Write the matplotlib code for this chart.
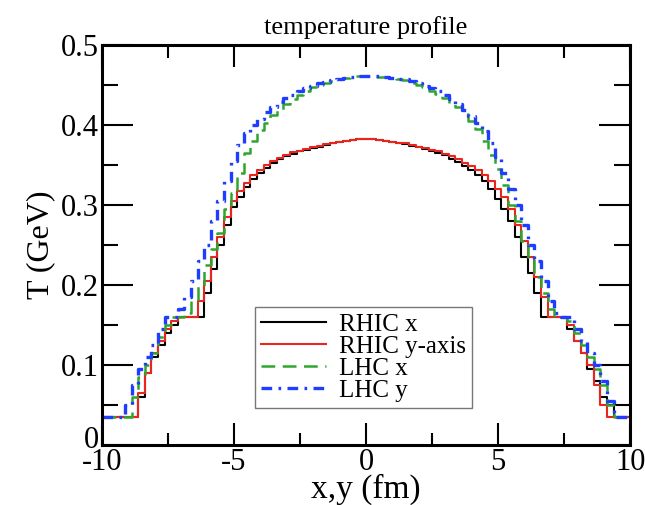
import numpy as np
import matplotlib
matplotlib.use("Agg")
import matplotlib.pyplot as plt
from matplotlib.ticker import MultipleLocator
from matplotlib.transforms import ScaledTranslation

# x grid of the profiles (fm), 0.25 fm cells
x_fm = np.arange(-10.0, 10.001, 0.25)

# temperature (GeV), one value per cell
rhic_x = [
    0.035, 0.035, 0.035, 0.035, 0.035, 0.035, 0.060, 0.090, 0.110,
    0.125, 0.140, 0.150, 0.160, 0.160, 0.160, 0.160, 0.190, 0.220,
    0.250, 0.275, 0.298, 0.310, 0.322, 0.332, 0.340, 0.346, 0.352,
    0.357, 0.361, 0.364, 0.367, 0.369, 0.371, 0.373, 0.375, 0.377,
    0.379, 0.380, 0.381, 0.382, 0.382, 0.382, 0.381, 0.380, 0.379,
    0.378, 0.376, 0.374, 0.372, 0.370, 0.367, 0.365, 0.362, 0.358,
    0.354, 0.349, 0.344, 0.337, 0.330, 0.320, 0.308, 0.295, 0.280,
    0.260, 0.235, 0.215, 0.190, 0.160, 0.160, 0.160, 0.160, 0.145,
    0.130, 0.115, 0.095, 0.080, 0.060, 0.050, 0.035, 0.035, 0.035,
]
rhic_y = [
    0.035, 0.035, 0.035, 0.035, 0.035, 0.035, 0.065, 0.090, 0.115,
    0.130, 0.145, 0.155, 0.160, 0.160, 0.160, 0.180, 0.205, 0.235,
    0.260, 0.285, 0.305, 0.318, 0.328, 0.337, 0.344, 0.350, 0.355,
    0.359, 0.363, 0.366, 0.368, 0.370, 0.372, 0.374, 0.376, 0.377,
    0.379, 0.380, 0.381, 0.382, 0.382, 0.382, 0.381, 0.380, 0.379,
    0.378, 0.377, 0.375, 0.373, 0.371, 0.369, 0.367, 0.364, 0.361,
    0.357, 0.353, 0.349, 0.344, 0.337, 0.330, 0.320, 0.310, 0.295,
    0.275, 0.255, 0.235, 0.210, 0.185, 0.160, 0.160, 0.160, 0.150,
    0.130, 0.115, 0.100, 0.075, 0.050, 0.035, 0.035, 0.035, 0.035,
]
lhc_x = [
    0.035, 0.035, 0.035, 0.035, 0.035, 0.060, 0.085, 0.100, 0.115,
    0.135, 0.150, 0.160, 0.160, 0.165, 0.180, 0.200, 0.225, 0.245,
    0.265, 0.295, 0.315, 0.340, 0.365, 0.380, 0.394, 0.403, 0.412,
    0.419, 0.426, 0.432, 0.438, 0.443, 0.447, 0.450, 0.453, 0.455,
    0.457, 0.459, 0.460, 0.461, 0.461, 0.461, 0.460, 0.460, 0.459,
    0.458, 0.456, 0.453, 0.450, 0.447, 0.443, 0.439, 0.434, 0.428,
    0.422, 0.414, 0.405, 0.395, 0.380, 0.362, 0.345, 0.325, 0.300,
    0.280, 0.255, 0.235, 0.210, 0.190, 0.170, 0.160, 0.160, 0.155,
    0.140, 0.125, 0.110, 0.095, 0.075, 0.050, 0.035, 0.035, 0.035,
]
lhc_y = [
    0.035, 0.035, 0.035, 0.035, 0.050, 0.075, 0.095, 0.110, 0.125,
    0.145, 0.160, 0.160, 0.170, 0.185, 0.205, 0.230, 0.250, 0.280,
    0.305, 0.330, 0.355, 0.375, 0.390, 0.400, 0.408, 0.416, 0.423,
    0.429, 0.434, 0.438, 0.442, 0.446, 0.449, 0.452, 0.454, 0.456,
    0.458, 0.459, 0.460, 0.461, 0.461, 0.461, 0.461, 0.460, 0.459,
    0.458, 0.457, 0.455, 0.452, 0.449, 0.446, 0.442, 0.437, 0.432,
    0.426, 0.419, 0.411, 0.402, 0.392, 0.378, 0.360, 0.340, 0.320,
    0.300, 0.275, 0.250, 0.230, 0.205, 0.180, 0.165, 0.160, 0.160,
    0.145, 0.130, 0.115, 0.100, 0.080, 0.055, 0.035, 0.035, 0.035,
]

plt.rcParams["font.family"] = ["Liberation Serif", "DejaVu Serif"]

fig = plt.figure(figsize=(6.45, 5.05), dpi=100)
ax = fig.add_axes([0.158, 0.119, 0.819, 0.792])

ax.plot(x_fm, rhic_x, color="black", lw=1.5, drawstyle="steps-mid", label="RHIC x")
ax.plot(x_fm, rhic_y, color="#e8261f", lw=1.5, drawstyle="steps-mid", label="RHIC y-axis")
ax.plot(x_fm, lhc_x, color="#2ea62e", lw=1.8, drawstyle="steps-mid",
        dashes=(5.5, 3.0), label="LHC x")
ax.plot(x_fm, lhc_y, color="#1f3dff", lw=2.4, drawstyle="steps-mid",
        dashes=(3.2, 1.9, 0.8, 1.9), label="LHC y")

ax.set_xlim(-10, 10)
ax.set_ylim(0, 0.5)
ax.xaxis.set_minor_locator(MultipleLocator(2.5))
ax.yaxis.set_minor_locator(MultipleLocator(0.05))
ax.set_xticks([-10, -5, 0, 5, 10])
ax.set_xticklabels(["-10", "-5", "0", "5", "10"])
ax.set_yticks([0, 0.1, 0.2, 0.3, 0.4, 0.5])
ax.set_yticklabels(["0", "0.1", "0.2", "0.3", "0.4", "0.5"])

ax.tick_params(axis="x", which="major", direction="in", length=16, width=1.5,
               top=True, labelsize=22, pad=2)
ax.tick_params(axis="x", which="minor", direction="in", length=9, width=1.5, top=True)
ax.tick_params(axis="y", which="major", direction="in", length=22, width=1.5,
               right=True, labelsize=22, pad=2)
ax.tick_params(axis="y", which="minor", direction="in", length=11.5, width=1.5, right=True)
for s in ax.spines.values():
    s.set_linewidth(2.2)

# lift the "0" on the y axis a little so it sits above the "-10"
zero_lbl = ax.get_yticklabels()[0]
zero_lbl.set_transform(zero_lbl.get_transform()
                       + ScaledTranslation(0, 6 / 72, fig.dpi_scale_trans))

ax.set_xlabel("x,y (fm)", fontsize=24, labelpad=-2)
ax.set_ylabel("T (GeV)", fontsize=23, labelpad=4)
ax.set_title("temperature profile", fontsize=19, pad=8)

leg = ax.legend(loc="lower left", bbox_to_anchor=(0.29, 0.0925), borderaxespad=0,
                fontsize=18, frameon=True, fancybox=False, shadow=False,
                handlelength=2.6, handletextpad=0.5, labelspacing=-0.02,
                borderpad=0.25)
leg.get_frame().set_edgecolor("#555555")
leg.get_frame().set_linewidth(1.0)

fig.savefig("out.png", dpi=100)
